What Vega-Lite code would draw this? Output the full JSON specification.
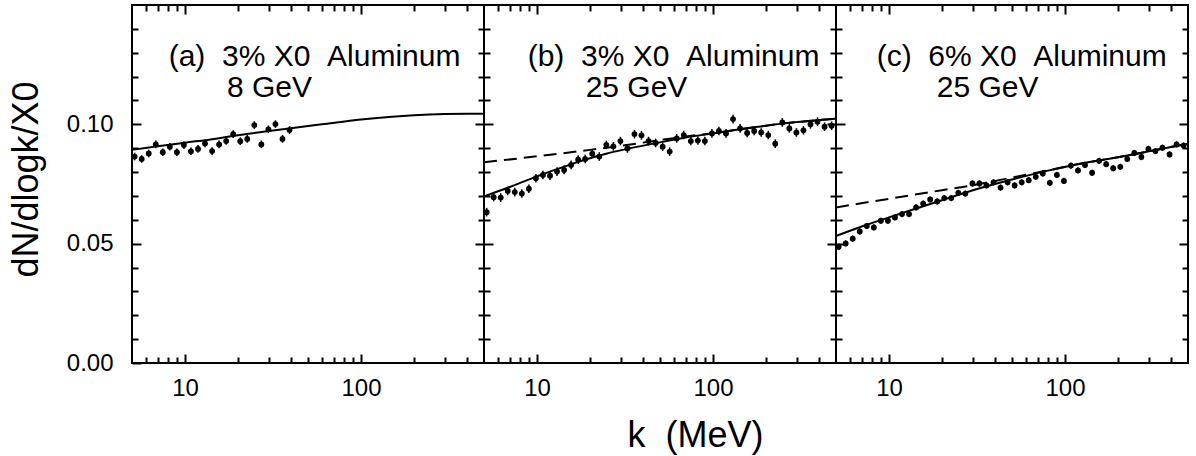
{
  "$schema": "https://vega.github.io/schema/vega-lite/v6.json",
  "background": "white",
  "padding": {"left": 7, "top": 3, "right": 5, "bottom": 5},
  "spacing": 0,
  "bounds": "flush",
  "config": {
    "view": {"stroke": "black", "strokeWidth": 2},
    "axis": {
      "grid": false,
      "domain": false,
      "ticks": true,
      "tickColor": "black",
      "tickWidth": 2,
      "labelFont": "Liberation Sans",
      "labelFontSize": 24,
      "labelColor": "black",
      "titleFont": "Liberation Sans",
      "titleFontSize": 36,
      "titleFontWeight": "normal",
      "titleColor": "black",
      "labelOverlap": false,
      "labelFlush": false
    }
  },
  "datasets": {
    "points": [
      {"panel":"a","k":5.176,"v":0.0865,"lo":0.0849,"hi":0.0881},{"panel":"a","k":5.675,"v":0.0855,"lo":0.0839,"hi":0.0871},{"panel":"a","k":6.223,"v":0.0878,"lo":0.0862,"hi":0.0894},{"panel":"a","k":6.823,"v":0.0916,"lo":0.09,"hi":0.0932},{"panel":"a","k":7.482,"v":0.0883,"lo":0.0867,"hi":0.0899},{"panel":"a","k":8.204,"v":0.0906,"lo":0.089,"hi":0.0922},{"panel":"a","k":8.995,"v":0.0883,"lo":0.0867,"hi":0.0899},{"panel":"a","k":9.863,"v":0.0913,"lo":0.0897,"hi":0.0929},{"panel":"a","k":10.81,"v":0.0887,"lo":0.0871,"hi":0.0903},{"panel":"a","k":11.86,"v":0.0897,"lo":0.0881,"hi":0.0913},{"panel":"a","k":13.0,"v":0.092,"lo":0.0904,"hi":0.0936},{"panel":"a","k":14.26,"v":0.0888,"lo":0.0872,"hi":0.0904},{"panel":"a","k":15.63,"v":0.0916,"lo":0.09,"hi":0.0932},{"panel":"a","k":17.14,"v":0.093,"lo":0.0914,"hi":0.0946},{"panel":"a","k":18.79,"v":0.0959,"lo":0.0943,"hi":0.0975},{"panel":"a","k":20.61,"v":0.0929,"lo":0.0913,"hi":0.0945},{"panel":"a","k":22.59,"v":0.0939,"lo":0.0923,"hi":0.0955},{"panel":"a","k":24.77,"v":0.0997,"lo":0.0981,"hi":0.1013},{"panel":"a","k":27.16,"v":0.0916,"lo":0.09,"hi":0.0932},{"panel":"a","k":29.79,"v":0.0979,"lo":0.0963,"hi":0.0995},{"panel":"a","k":32.66,"v":0.1001,"lo":0.0985,"hi":0.1017},{"panel":"a","k":35.81,"v":0.0939,"lo":0.0923,"hi":0.0955},{"panel":"a","k":39.26,"v":0.0976,"lo":0.096,"hi":0.0992},
      {"panel":"b","k":5.176,"v":0.0632,"lo":0.0614,"hi":0.065},{"panel":"b","k":5.675,"v":0.0695,"lo":0.0677,"hi":0.0713},{"panel":"b","k":6.223,"v":0.0693,"lo":0.0675,"hi":0.0711},{"panel":"b","k":6.823,"v":0.0721,"lo":0.0703,"hi":0.0739},{"panel":"b","k":7.482,"v":0.0716,"lo":0.0698,"hi":0.0734},{"panel":"b","k":8.204,"v":0.071,"lo":0.0692,"hi":0.0728},{"panel":"b","k":8.995,"v":0.073,"lo":0.0712,"hi":0.0748},{"panel":"b","k":9.863,"v":0.0774,"lo":0.0756,"hi":0.0792},{"panel":"b","k":10.81,"v":0.0788,"lo":0.077,"hi":0.0806},{"panel":"b","k":11.86,"v":0.0785,"lo":0.0767,"hi":0.0803},{"panel":"b","k":13.0,"v":0.0802,"lo":0.0784,"hi":0.082},{"panel":"b","k":14.26,"v":0.0809,"lo":0.0791,"hi":0.0827},{"panel":"b","k":15.63,"v":0.083,"lo":0.0812,"hi":0.0848},{"panel":"b","k":17.14,"v":0.0852,"lo":0.0834,"hi":0.087},{"panel":"b","k":18.79,"v":0.0855,"lo":0.0837,"hi":0.0873},{"panel":"b","k":20.61,"v":0.0877,"lo":0.0859,"hi":0.0895},{"panel":"b","k":22.59,"v":0.0865,"lo":0.0847,"hi":0.0883},{"panel":"b","k":24.77,"v":0.0914,"lo":0.0896,"hi":0.0932},{"panel":"b","k":27.16,"v":0.0908,"lo":0.089,"hi":0.0926},{"panel":"b","k":29.79,"v":0.093,"lo":0.0912,"hi":0.0948},{"panel":"b","k":32.66,"v":0.0899,"lo":0.0881,"hi":0.0917},{"panel":"b","k":35.81,"v":0.0959,"lo":0.0941,"hi":0.0977},{"panel":"b","k":39.26,"v":0.0954,"lo":0.0936,"hi":0.0972},{"panel":"b","k":43.05,"v":0.093,"lo":0.0912,"hi":0.0948},{"panel":"b","k":47.21,"v":0.0922,"lo":0.0904,"hi":0.094},{"panel":"b","k":51.76,"v":0.0906,"lo":0.0888,"hi":0.0924},{"panel":"b","k":56.75,"v":0.0886,"lo":0.0868,"hi":0.0904},{"panel":"b","k":62.23,"v":0.0941,"lo":0.0923,"hi":0.0959},{"panel":"b","k":68.23,"v":0.0955,"lo":0.0937,"hi":0.0973},{"panel":"b","k":74.82,"v":0.093,"lo":0.0912,"hi":0.0948},{"panel":"b","k":82.04,"v":0.0932,"lo":0.0914,"hi":0.095},{"panel":"b","k":89.95,"v":0.093,"lo":0.0912,"hi":0.0948},{"panel":"b","k":98.63,"v":0.0962,"lo":0.0944,"hi":0.098},{"panel":"b","k":108.1,"v":0.0972,"lo":0.0954,"hi":0.099},{"panel":"b","k":118.6,"v":0.0962,"lo":0.0944,"hi":0.098},{"panel":"b","k":130.0,"v":0.1022,"lo":0.1004,"hi":0.104},{"panel":"b","k":142.6,"v":0.0983,"lo":0.0965,"hi":0.1001},{"panel":"b","k":156.3,"v":0.0964,"lo":0.0946,"hi":0.0982},{"panel":"b","k":171.4,"v":0.0972,"lo":0.0954,"hi":0.099},{"panel":"b","k":187.9,"v":0.0966,"lo":0.0948,"hi":0.0984},{"panel":"b","k":206.1,"v":0.0955,"lo":0.0937,"hi":0.0973},{"panel":"b","k":225.9,"v":0.0919,"lo":0.0901,"hi":0.0937},{"panel":"b","k":247.7,"v":0.1008,"lo":0.099,"hi":0.1026},{"panel":"b","k":271.6,"v":0.0983,"lo":0.0965,"hi":0.1001},{"panel":"b","k":297.9,"v":0.0966,"lo":0.0948,"hi":0.0984},{"panel":"b","k":326.6,"v":0.0975,"lo":0.0957,"hi":0.0993},{"panel":"b","k":358.1,"v":0.1,"lo":0.0982,"hi":0.1018},{"panel":"b","k":392.6,"v":0.1011,"lo":0.0993,"hi":0.1029},{"panel":"b","k":430.5,"v":0.099,"lo":0.0972,"hi":0.1008},{"panel":"b","k":472.1,"v":0.0994,"lo":0.0976,"hi":0.1012},
      {"panel":"c","k":5.176,"v":0.0487,"lo":0.0474,"hi":0.05},{"panel":"c","k":5.675,"v":0.0501,"lo":0.0488,"hi":0.0514},{"panel":"c","k":6.223,"v":0.0521,"lo":0.0508,"hi":0.0534},{"panel":"c","k":6.823,"v":0.0551,"lo":0.0538,"hi":0.0564},{"panel":"c","k":7.482,"v":0.0574,"lo":0.0561,"hi":0.0587},{"panel":"c","k":8.204,"v":0.0568,"lo":0.0555,"hi":0.0581},{"panel":"c","k":8.995,"v":0.0596,"lo":0.0583,"hi":0.0609},{"panel":"c","k":9.863,"v":0.0596,"lo":0.0583,"hi":0.0609},{"panel":"c","k":10.81,"v":0.061,"lo":0.0597,"hi":0.0623},{"panel":"c","k":11.86,"v":0.0624,"lo":0.0611,"hi":0.0637},{"panel":"c","k":13.0,"v":0.0624,"lo":0.0611,"hi":0.0637},{"panel":"c","k":14.26,"v":0.0652,"lo":0.0639,"hi":0.0665},{"panel":"c","k":15.63,"v":0.0668,"lo":0.0655,"hi":0.0681},{"panel":"c","k":17.14,"v":0.0685,"lo":0.0672,"hi":0.0698},{"panel":"c","k":18.79,"v":0.0677,"lo":0.0664,"hi":0.069},{"panel":"c","k":20.61,"v":0.0691,"lo":0.0678,"hi":0.0704},{"panel":"c","k":22.59,"v":0.0691,"lo":0.0678,"hi":0.0704},{"panel":"c","k":24.77,"v":0.0713,"lo":0.07,"hi":0.0726},{"panel":"c","k":27.16,"v":0.071,"lo":0.0697,"hi":0.0723},{"panel":"c","k":29.79,"v":0.0752,"lo":0.0739,"hi":0.0765},{"panel":"c","k":32.66,"v":0.0752,"lo":0.0739,"hi":0.0765},{"panel":"c","k":35.81,"v":0.0744,"lo":0.0731,"hi":0.0757},{"panel":"c","k":39.26,"v":0.0757,"lo":0.0744,"hi":0.077},{"panel":"c","k":43.05,"v":0.0735,"lo":0.0722,"hi":0.0748},{"panel":"c","k":47.21,"v":0.0757,"lo":0.0744,"hi":0.077},{"panel":"c","k":51.76,"v":0.0744,"lo":0.0731,"hi":0.0757},{"panel":"c","k":56.75,"v":0.0757,"lo":0.0744,"hi":0.077},{"panel":"c","k":62.23,"v":0.0766,"lo":0.0753,"hi":0.0779},{"panel":"c","k":68.23,"v":0.078,"lo":0.0767,"hi":0.0793},{"panel":"c","k":74.82,"v":0.0794,"lo":0.0781,"hi":0.0807},{"panel":"c","k":82.04,"v":0.0755,"lo":0.0742,"hi":0.0768},{"panel":"c","k":89.95,"v":0.0788,"lo":0.0775,"hi":0.0801},{"panel":"c","k":98.63,"v":0.0763,"lo":0.075,"hi":0.0776},{"panel":"c","k":108.1,"v":0.0827,"lo":0.0814,"hi":0.084},{"panel":"c","k":118.6,"v":0.0807,"lo":0.0794,"hi":0.082},{"panel":"c","k":130.0,"v":0.083,"lo":0.0817,"hi":0.0843},{"panel":"c","k":142.6,"v":0.0797,"lo":0.0784,"hi":0.081},{"panel":"c","k":156.3,"v":0.0847,"lo":0.0834,"hi":0.086},{"panel":"c","k":171.4,"v":0.0833,"lo":0.082,"hi":0.0846},{"panel":"c","k":187.9,"v":0.0816,"lo":0.0803,"hi":0.0829},{"panel":"c","k":206.1,"v":0.0822,"lo":0.0809,"hi":0.0835},{"panel":"c","k":225.9,"v":0.0855,"lo":0.0842,"hi":0.0868},{"panel":"c","k":247.7,"v":0.088,"lo":0.0867,"hi":0.0893},{"panel":"c","k":271.6,"v":0.0863,"lo":0.085,"hi":0.0876},{"panel":"c","k":297.9,"v":0.0897,"lo":0.0884,"hi":0.091},{"panel":"c","k":326.6,"v":0.0888,"lo":0.0875,"hi":0.0901},{"panel":"c","k":358.1,"v":0.0902,"lo":0.0889,"hi":0.0915},{"panel":"c","k":392.6,"v":0.0874,"lo":0.0861,"hi":0.0887},{"panel":"c","k":430.5,"v":0.0916,"lo":0.0903,"hi":0.0929},{"panel":"c","k":472.1,"v":0.0911,"lo":0.0898,"hi":0.0924}
    ],
    "curves": [
      {"panel":"a","style":"solid","k":5,"v":0.0893},{"panel":"a","style":"solid","k":7,"v":0.0908},{"panel":"a","style":"solid","k":10,"v":0.0923},{"panel":"a","style":"solid","k":15,"v":0.094},{"panel":"a","style":"solid","k":20,"v":0.0954},{"panel":"a","style":"solid","k":30,"v":0.0972},{"panel":"a","style":"solid","k":40,"v":0.0984},{"panel":"a","style":"solid","k":60,"v":0.1},{"panel":"a","style":"solid","k":100,"v":0.102},{"panel":"a","style":"solid","k":150,"v":0.1032},{"panel":"a","style":"solid","k":200,"v":0.1038},{"panel":"a","style":"solid","k":300,"v":0.1043},{"panel":"a","style":"solid","k":400,"v":0.1044},{"panel":"a","style":"solid","k":500,"v":0.1044},
      {"panel":"b","style":"solid","k":5,"v":0.0698},{"panel":"b","style":"solid","k":7.4,"v":0.0744},{"panel":"b","style":"solid","k":10,"v":0.0782},{"panel":"b","style":"solid","k":12.5,"v":0.0808},{"panel":"b","style":"solid","k":15,"v":0.0828},{"panel":"b","style":"solid","k":17.5,"v":0.0845},{"panel":"b","style":"solid","k":20,"v":0.0858},{"panel":"b","style":"solid","k":25,"v":0.0878},{"panel":"b","style":"solid","k":33,"v":0.0898},{"panel":"b","style":"solid","k":48,"v":0.0922},{"panel":"b","style":"solid","k":70,"v":0.0945},{"panel":"b","style":"solid","k":100,"v":0.0962},{"panel":"b","style":"solid","k":133,"v":0.0976},{"panel":"b","style":"solid","k":180,"v":0.099},{"panel":"b","style":"solid","k":253,"v":0.1004},{"panel":"b","style":"solid","k":350,"v":0.1014},{"panel":"b","style":"solid","k":500,"v":0.1024},
      {"panel":"b","style":"dashed","k":5,"v":0.0841},{"panel":"b","style":"dashed","k":10,"v":0.0866},{"panel":"b","style":"dashed","k":20,"v":0.0893},{"panel":"b","style":"dashed","k":30,"v":0.091},{"panel":"b","style":"dashed","k":50,"v":0.0934},{"panel":"b","style":"dashed","k":70,"v":0.0949},{"panel":"b","style":"dashed","k":100,"v":0.0963},{"panel":"b","style":"dashed","k":133,"v":0.0976},{"panel":"b","style":"dashed","k":180,"v":0.099},{"panel":"b","style":"dashed","k":253,"v":0.1004},{"panel":"b","style":"dashed","k":350,"v":0.1014},{"panel":"b","style":"dashed","k":500,"v":0.1024},
      {"panel":"c","style":"solid","k":5,"v":0.0532},{"panel":"c","style":"solid","k":7,"v":0.0572},{"panel":"c","style":"solid","k":10,"v":0.061},{"panel":"c","style":"solid","k":14,"v":0.0645},{"panel":"c","style":"solid","k":20,"v":0.0682},{"panel":"c","style":"solid","k":30,"v":0.0724},{"panel":"c","style":"solid","k":50,"v":0.0769},{"panel":"c","style":"solid","k":80,"v":0.0806},{"panel":"c","style":"solid","k":120,"v":0.0834},{"panel":"c","style":"solid","k":200,"v":0.0862},{"panel":"c","style":"solid","k":300,"v":0.0887},{"panel":"c","style":"solid","k":500,"v":0.0919},
      {"panel":"c","style":"dashed","k":5,"v":0.0652},{"panel":"c","style":"dashed","k":10,"v":0.0688},{"panel":"c","style":"dashed","k":20,"v":0.0724},{"panel":"c","style":"dashed","k":30,"v":0.0745},{"panel":"c","style":"dashed","k":50,"v":0.0777},{"panel":"c","style":"dashed","k":80,"v":0.0807},{"panel":"c","style":"dashed","k":120,"v":0.0834},{"panel":"c","style":"dashed","k":200,"v":0.0862},{"panel":"c","style":"dashed","k":300,"v":0.0887},{"panel":"c","style":"dashed","k":500,"v":0.0919}
    ],
    "labels": [
      {"panel":"a","k":8.08,"v":0.1244,"label":"(a)\u00a0\u00a03% X0\u00a0\u00a0Aluminum"},
      {"panel":"a","k":17.3,"v":0.1115,"label":"8 GeV"},
      {"panel":"b","k":8.85,"v":0.1244,"label":"(b)\u00a0\u00a03% X0\u00a0\u00a0Aluminum"},
      {"panel":"b","k":18.9,"v":0.1115,"label":"25 GeV"},
      {"panel":"c","k":8.51,"v":0.1244,"label":"(c)\u00a0\u00a06% X0\u00a0\u00a0Aluminum"},
      {"panel":"c","k":18.7,"v":0.1115,"label":"25 GeV"}
    ]
  },
  "hconcat": [
    {
      "width": 352, "height": 358,
      "layer": [
        {
          "data": {"name": "curves"},
          "transform": [{"filter": "datum.panel == 'a' && datum.style == 'solid'"}],
          "mark": {"type": "line", "color": "black", "strokeWidth": 2, "interpolate": "monotone"},
          "encoding": {
            "x": {"field": "k", "type": "quantitative", "scale": {"type": "log", "domain": [5, 500], "nice": false},
                  "axis": {"orient": "top", "values": [6,7,8,9,20,30,40,50,60,70,80,90,200,300,400], "tickSize": 6, "offset": -6, "labels": false, "title": null}},
            "y": {"field": "v", "type": "quantitative", "scale": {"domain": [0, 0.15], "nice": false, "zero": false},
                  "axis": {"orient": "right", "values": [0.01,0.02,0.03,0.04,0.06,0.07,0.08,0.09,0.11,0.12,0.13,0.14], "tickSize": 6, "offset": -6, "labels": false, "title": null}}
          }
        },
        {
          "data": {"name": "points"},
          "transform": [{"filter": "datum.panel == 'a'"}],
          "mark": {"type": "rule", "color": "black", "strokeWidth": 1.5},
          "encoding": {
            "x": {"field": "k", "type": "quantitative", "scale": {"type": "log", "domain": [5, 500], "nice": false},
                  "axis": {"orient": "bottom", "values": [6,7,8,9,20,30,40,50,60,70,80,90,200,300,400], "tickSize": 6, "offset": -6, "labels": false, "title": null}},
            "y": {"field": "lo", "type": "quantitative", "scale": {"domain": [0, 0.15], "nice": false, "zero": false},
                  "axis": {"orient": "left", "values": [0.01,0.02,0.03,0.04,0.06,0.07,0.08,0.09,0.11,0.12,0.13,0.14], "tickSize": 6, "offset": -6, "labels": false, "title": null}},
            "y2": {"field": "hi"}
          }
        },
        {
          "data": {"name": "points"},
          "transform": [{"filter": "datum.panel == 'a'"}],
          "mark": {"type": "point", "filled": true, "color": "black", "opacity": 1, "size": 34},
          "encoding": {
            "x": {"field": "k", "type": "quantitative", "scale": {"type": "log", "domain": [5, 500], "nice": false},
                  "axis": {"orient": "bottom", "values": [10, 100], "tickSize": 9, "offset": -9, "labelExpr": "datum.value == 10 ? '10' : '100'", "labelPadding": 13, "title": null}},
            "y": {"field": "v", "type": "quantitative", "scale": {"domain": [0, 0.15], "nice": false, "zero": false},
                  "axis": {"orient": "left", "values": [0, 0.05, 0.1], "tickSize": 9, "offset": -9, "format": ".2f", "labelPadding": 19, "title": "dN/dlogk/X0", "titleX": -104, "titleY": 174, "titleBaseline": "alphabetic", "titleAngle": 270}}
          }
        },
        {
          "data": {"name": "labels"},
          "transform": [{"filter": "datum.panel == 'a'"}],
          "mark": {"type": "text", "align": "left", "baseline": "alphabetic", "fontSize": 30, "font": "Liberation Sans", "color": "black"},
          "encoding": {
            "x": {"field": "k", "type": "quantitative", "scale": {"type": "log", "domain": [5, 500], "nice": false},
                  "axis": {"orient": "top", "values": [10, 100], "tickSize": 9, "offset": -9, "labels": false, "title": null}},
            "y": {"field": "v", "type": "quantitative", "scale": {"domain": [0, 0.15], "nice": false, "zero": false},
                  "axis": {"orient": "right", "values": [0.05, 0.1], "tickSize": 9, "offset": -9, "labels": false, "title": null}},
            "text": {"field": "label"}
          }
        }
      ],
      "resolve": {"axis": {"x": "independent", "y": "independent"}}
    },
    {
      "width": 352, "height": 358,
      "layer": [
        {
          "data": {"name": "curves"},
          "transform": [{"filter": "datum.panel == 'b' && datum.style == 'solid'"}],
          "mark": {"type": "line", "color": "black", "strokeWidth": 2, "interpolate": "monotone"},
          "encoding": {
            "x": {"field": "k", "type": "quantitative", "scale": {"type": "log", "domain": [5, 500], "nice": false},
                  "axis": {"orient": "top", "values": [6,7,8,9,20,30,40,50,60,70,80,90,200,300,400], "tickSize": 6, "offset": -6, "labels": false, "title": null}},
            "y": {"field": "v", "type": "quantitative", "scale": {"domain": [0, 0.15], "nice": false, "zero": false},
                  "axis": {"orient": "right", "values": [0.01,0.02,0.03,0.04,0.06,0.07,0.08,0.09,0.11,0.12,0.13,0.14], "tickSize": 6, "offset": -6, "labels": false, "title": null}}
          }
        },
        {
          "data": {"name": "curves"},
          "transform": [{"filter": "datum.panel == 'b' && datum.style == 'dashed'"}],
          "mark": {"type": "line", "color": "black", "strokeWidth": 2, "strokeDash": [13, 7], "interpolate": "monotone"},
          "encoding": {
            "x": {"field": "k", "type": "quantitative", "scale": {"type": "log", "domain": [5, 500], "nice": false}, "axis": null},
            "y": {"field": "v", "type": "quantitative", "scale": {"domain": [0, 0.15], "nice": false, "zero": false}, "axis": null}
          }
        },
        {
          "data": {"name": "points"},
          "transform": [{"filter": "datum.panel == 'b'"}],
          "mark": {"type": "rule", "color": "black", "strokeWidth": 1.5},
          "encoding": {
            "x": {"field": "k", "type": "quantitative", "scale": {"type": "log", "domain": [5, 500], "nice": false},
                  "axis": {"orient": "bottom", "values": [6,7,8,9,20,30,40,50,60,70,80,90,200,300,400], "tickSize": 6, "offset": -6, "labels": false, "title": null}},
            "y": {"field": "lo", "type": "quantitative", "scale": {"domain": [0, 0.15], "nice": false, "zero": false},
                  "axis": {"orient": "left", "values": [0.01,0.02,0.03,0.04,0.06,0.07,0.08,0.09,0.11,0.12,0.13,0.14], "tickSize": 6, "offset": -6, "labels": false, "title": null}},
            "y2": {"field": "hi"}
          }
        },
        {
          "data": {"name": "points"},
          "transform": [{"filter": "datum.panel == 'b'"}],
          "mark": {"type": "point", "filled": true, "color": "black", "opacity": 1, "size": 34},
          "encoding": {
            "x": {"field": "k", "type": "quantitative", "scale": {"type": "log", "domain": [5, 500], "nice": false},
                  "axis": {"orient": "bottom", "values": [10, 100], "tickSize": 9, "offset": -9, "labelExpr": "datum.value == 10 ? '10' : '100'", "labelPadding": 13, "title": "k\u00a0\u00a0(MeV)", "titleX": 211, "titleY": 92, "titleAlign": "center", "titleBaseline": "alphabetic"}},
            "y": {"field": "v", "type": "quantitative", "scale": {"domain": [0, 0.15], "nice": false, "zero": false},
                  "axis": {"orient": "left", "values": [0.05, 0.1], "tickSize": 9, "offset": -9, "labels": false, "title": null}}
          }
        },
        {
          "data": {"name": "labels"},
          "transform": [{"filter": "datum.panel == 'b'"}],
          "mark": {"type": "text", "align": "left", "baseline": "alphabetic", "fontSize": 30, "font": "Liberation Sans", "color": "black"},
          "encoding": {
            "x": {"field": "k", "type": "quantitative", "scale": {"type": "log", "domain": [5, 500], "nice": false},
                  "axis": {"orient": "top", "values": [10, 100], "tickSize": 9, "offset": -9, "labels": false, "title": null}},
            "y": {"field": "v", "type": "quantitative", "scale": {"domain": [0, 0.15], "nice": false, "zero": false},
                  "axis": {"orient": "right", "values": [0.05, 0.1], "tickSize": 9, "offset": -9, "labels": false, "title": null}},
            "text": {"field": "label"}
          }
        }
      ],
      "resolve": {"axis": {"x": "independent", "y": "independent"}}
    },
    {
      "width": 352, "height": 358,
      "layer": [
        {
          "data": {"name": "curves"},
          "transform": [{"filter": "datum.panel == 'c' && datum.style == 'solid'"}],
          "mark": {"type": "line", "color": "black", "strokeWidth": 2, "interpolate": "monotone"},
          "encoding": {
            "x": {"field": "k", "type": "quantitative", "scale": {"type": "log", "domain": [5, 500], "nice": false},
                  "axis": {"orient": "top", "values": [6,7,8,9,20,30,40,50,60,70,80,90,200,300,400], "tickSize": 6, "offset": -6, "labels": false, "title": null}},
            "y": {"field": "v", "type": "quantitative", "scale": {"domain": [0, 0.15], "nice": false, "zero": false},
                  "axis": {"orient": "right", "values": [0.01,0.02,0.03,0.04,0.06,0.07,0.08,0.09,0.11,0.12,0.13,0.14], "tickSize": 6, "offset": -6, "labels": false, "title": null}}
          }
        },
        {
          "data": {"name": "curves"},
          "transform": [{"filter": "datum.panel == 'c' && datum.style == 'dashed'"}],
          "mark": {"type": "line", "color": "black", "strokeWidth": 2, "strokeDash": [13, 7], "interpolate": "monotone"},
          "encoding": {
            "x": {"field": "k", "type": "quantitative", "scale": {"type": "log", "domain": [5, 500], "nice": false}, "axis": null},
            "y": {"field": "v", "type": "quantitative", "scale": {"domain": [0, 0.15], "nice": false, "zero": false}, "axis": null}
          }
        },
        {
          "data": {"name": "points"},
          "transform": [{"filter": "datum.panel == 'c'"}],
          "mark": {"type": "rule", "color": "black", "strokeWidth": 1.5},
          "encoding": {
            "x": {"field": "k", "type": "quantitative", "scale": {"type": "log", "domain": [5, 500], "nice": false},
                  "axis": {"orient": "bottom", "values": [6,7,8,9,20,30,40,50,60,70,80,90,200,300,400], "tickSize": 6, "offset": -6, "labels": false, "title": null}},
            "y": {"field": "lo", "type": "quantitative", "scale": {"domain": [0, 0.15], "nice": false, "zero": false},
                  "axis": {"orient": "left", "values": [0.01,0.02,0.03,0.04,0.06,0.07,0.08,0.09,0.11,0.12,0.13,0.14], "tickSize": 6, "offset": -6, "labels": false, "title": null}},
            "y2": {"field": "hi"}
          }
        },
        {
          "data": {"name": "points"},
          "transform": [{"filter": "datum.panel == 'c'"}],
          "mark": {"type": "point", "filled": true, "color": "black", "opacity": 1, "size": 34},
          "encoding": {
            "x": {"field": "k", "type": "quantitative", "scale": {"type": "log", "domain": [5, 500], "nice": false},
                  "axis": {"orient": "bottom", "values": [10, 100], "tickSize": 9, "offset": -9, "labelExpr": "datum.value == 10 ? '10' : '100'", "labelPadding": 13, "title": null}},
            "y": {"field": "v", "type": "quantitative", "scale": {"domain": [0, 0.15], "nice": false, "zero": false},
                  "axis": {"orient": "left", "values": [0.05, 0.1], "tickSize": 9, "offset": -9, "labels": false, "title": null}}
          }
        },
        {
          "data": {"name": "labels"},
          "transform": [{"filter": "datum.panel == 'c'"}],
          "mark": {"type": "text", "align": "left", "baseline": "alphabetic", "fontSize": 30, "font": "Liberation Sans", "color": "black"},
          "encoding": {
            "x": {"field": "k", "type": "quantitative", "scale": {"type": "log", "domain": [5, 500], "nice": false},
                  "axis": {"orient": "top", "values": [10, 100], "tickSize": 9, "offset": -9, "labels": false, "title": null}},
            "y": {"field": "v", "type": "quantitative", "scale": {"domain": [0, 0.15], "nice": false, "zero": false},
                  "axis": {"orient": "right", "values": [0.05, 0.1], "tickSize": 9, "offset": -9, "labels": false, "title": null}},
            "text": {"field": "label"}
          }
        }
      ],
      "resolve": {"axis": {"x": "independent", "y": "independent"}}
    }
  ]
}
